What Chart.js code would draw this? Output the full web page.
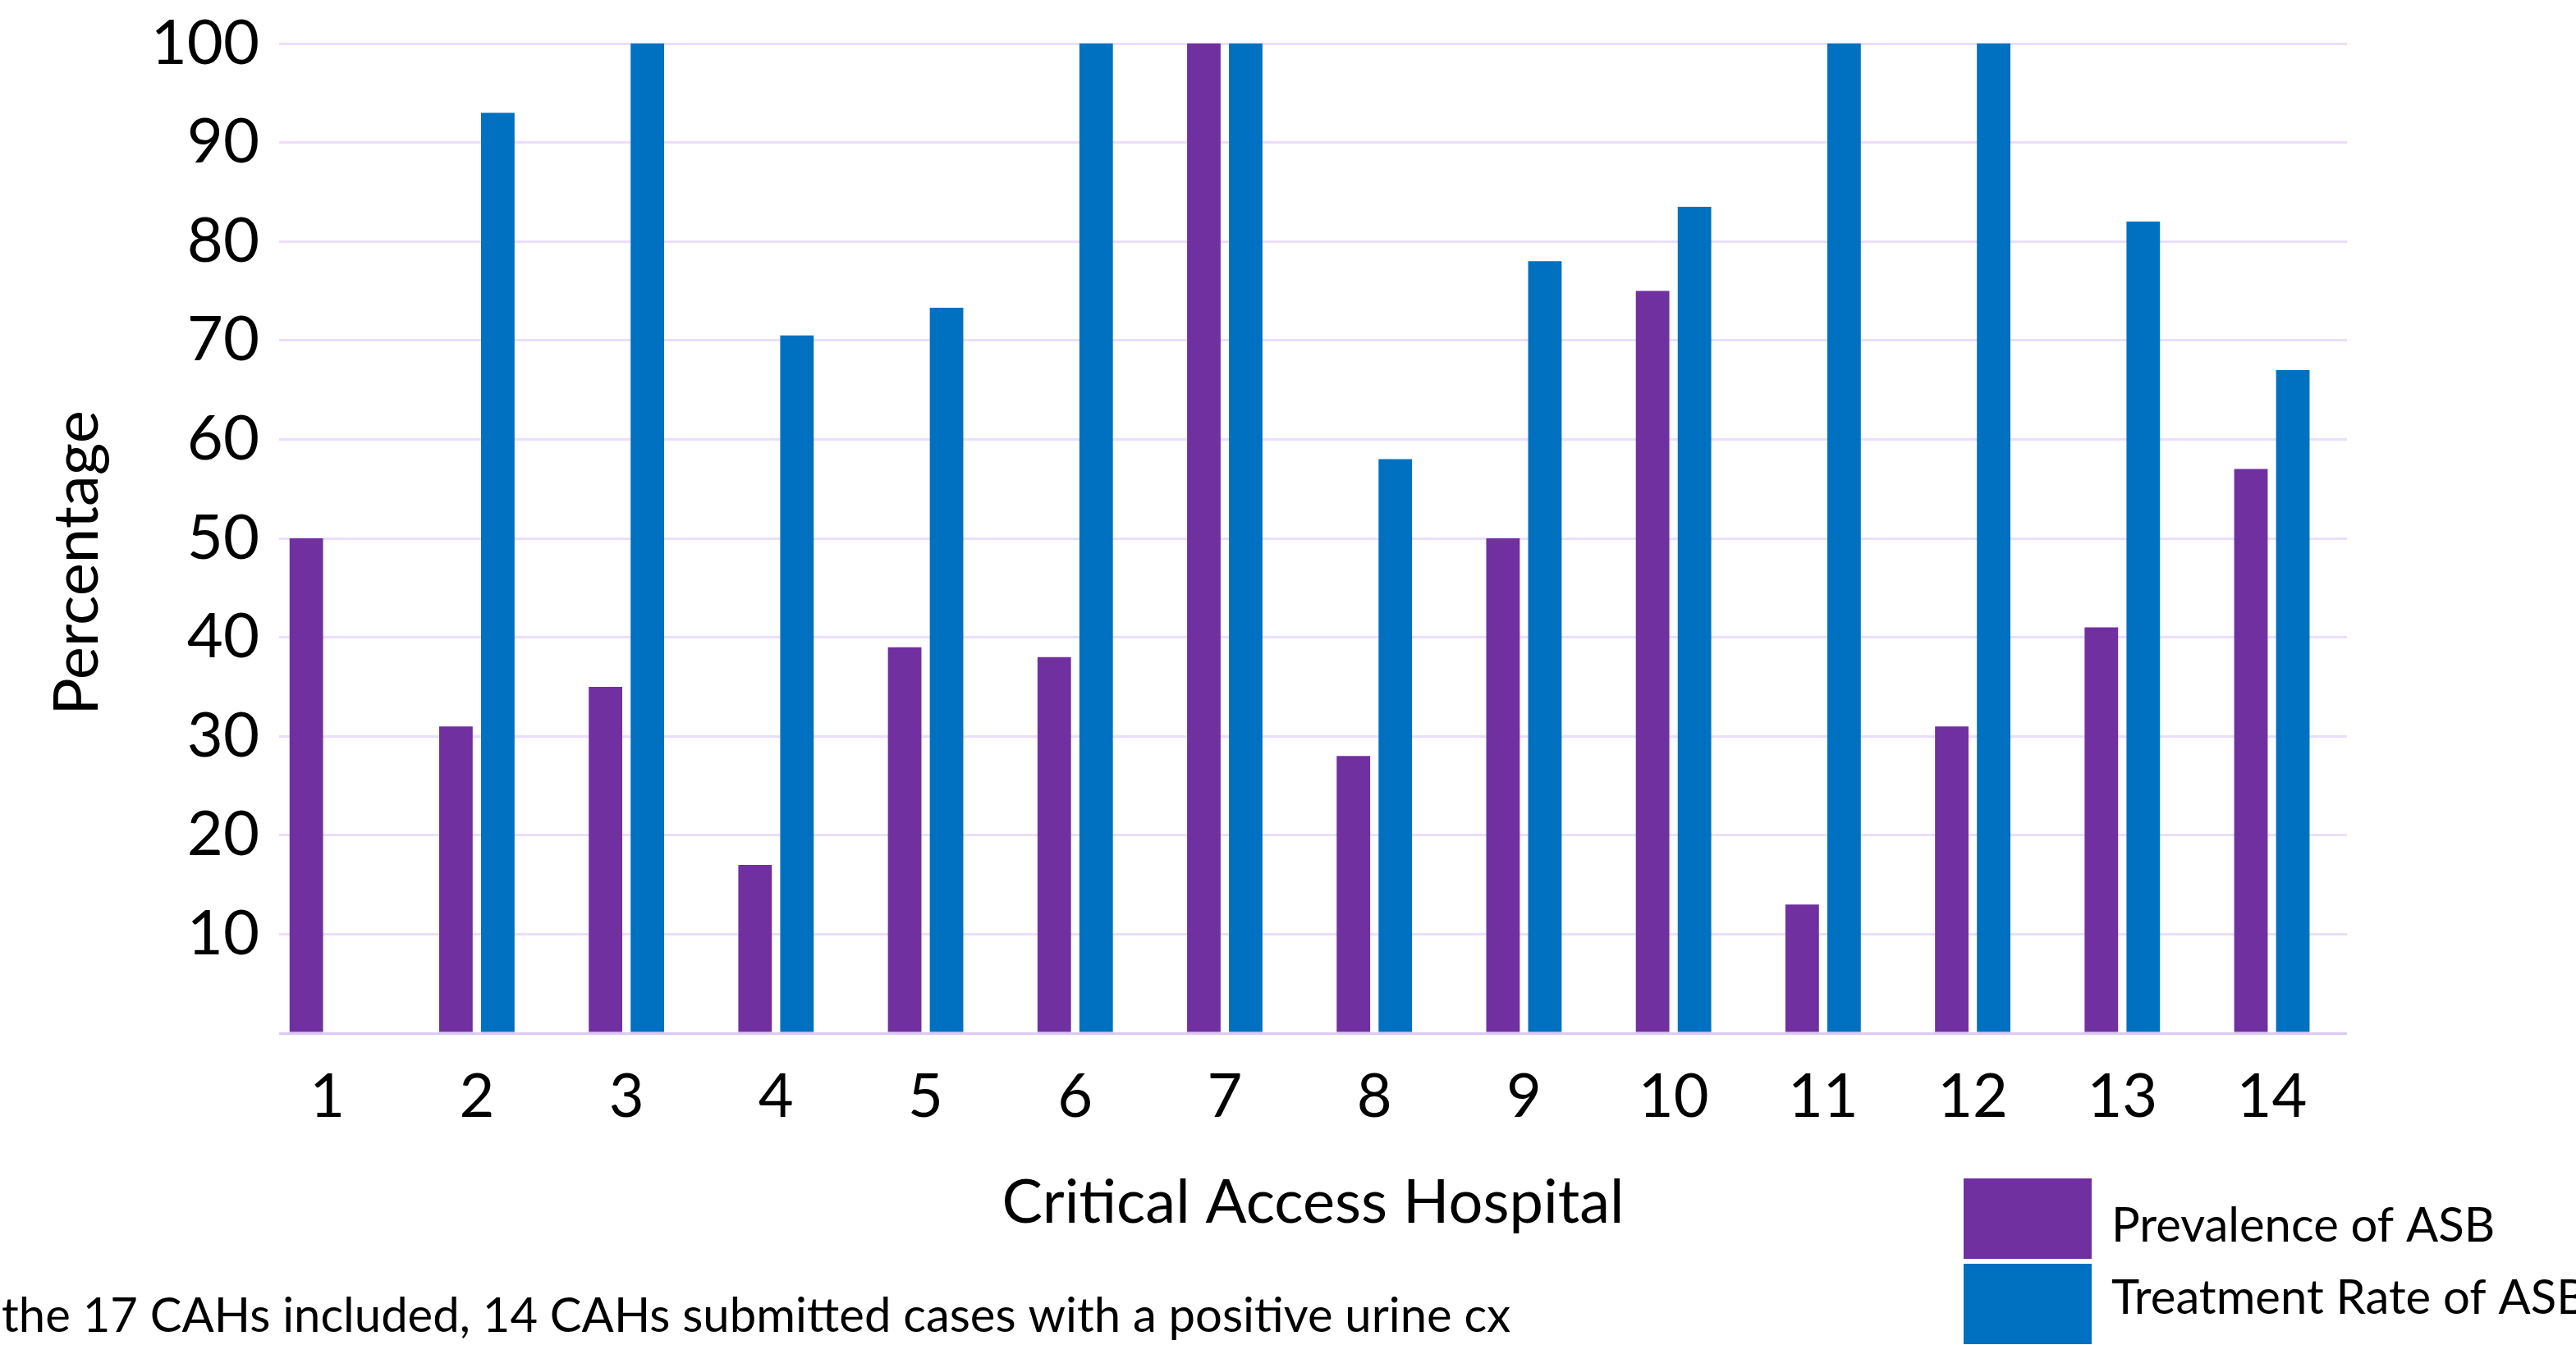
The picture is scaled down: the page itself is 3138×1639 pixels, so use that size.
<!DOCTYPE html>
<html>
<head>
<meta charset="utf-8">
<script src="https://cdn.jsdelivr.net/npm/chart.js@4/dist/chart.umd.min.js"></script>
<style>
  html, body { margin: 0; padding: 0; background: #ffffff; }
  #wrap { width: 3138px; height: 1639px; position: relative; }
</style>
</head>
<body>
<div id="wrap"><canvas id="asb" width="3138" height="1639"></canvas></div>
<script>
// Hospitals (x categories)
const hospitals = ['1', '2', '3', '4', '5', '6', '7', '8', '9', '10', '11', '12', '13', '14'];
// Prevalence of asymptomatic bacteriuria, %
const prevalence = [50, 31, 35, 17, 39, 38, 100, 28, 50, 75, 13, 31, 41, 57];
// Treatment rate of asymptomatic bacteriuria, % (hospital 1 has no value)
const treatment = [null, 93, 100, 70.5, 73.3, 100, 100, 58, 78, 83.5, 100, 100, 82, 67];
// Series names and colours
const seriesNames = ['Prevalence of ASB', 'Treatment Rate of ASB'];
const seriesColors = ['#7030A0', '#0070C0'];
// Axis titles and note
const xTitle = 'Critical Access Hospital';
const yTitle = 'Percentage';
const footnote = 'the 17 CAHs included, 14 CAHs submitted cases with a positive urine cx';

const FONT = 'Lato, "Open Sans", sans-serif';
Chart.defaults.font.family = FONT;
Chart.defaults.color = '#000000';

const toPoints = vals => vals.map((v, i) => ({ x: i + 1, y: v }));

// Y title, legend boxes stacked at the bottom right, and the note at the bottom left
const sideText = {
  id: 'sideText',
  afterDraw(chart) {
    const ctx = chart.ctx;
    ctx.save();
    ctx.fillStyle = '#000000';
    ctx.font = '76px ' + FONT;
    ctx.textAlign = 'center';
    ctx.textBaseline = 'middle';
    ctx.translate(94, 686);
    ctx.rotate(-Math.PI / 2);
    ctx.fillText(yTitle, 0, 0);
    ctx.restore();

    ctx.save();
    const boxX = 2392, boxW = 156, boxH = 98;
    const boxTops = [1436, 1540];
    const textMid = [1494, 1582];
    chart.data.datasets.forEach((ds, i) => {
      ctx.fillStyle = ds.backgroundColor;
      ctx.fillRect(boxX, boxTops[i], boxW, boxH);
      ctx.fillStyle = '#000000';
      ctx.font = '58px ' + FONT;
      ctx.textAlign = 'left';
      ctx.textBaseline = 'middle';
      ctx.fillText(ds.label, 2572, textMid[i]);
    });
    ctx.font = '58px ' + FONT;
    ctx.textAlign = 'left';
    ctx.textBaseline = 'middle';
    ctx.fillStyle = '#000000';
    ctx.fillText(footnote, 2, 1604);
    ctx.restore();
  }
};

new Chart(document.getElementById('asb'), {
  type: 'bar',
  data: {
    datasets: [
      { label: seriesNames[0], data: toPoints(prevalence), backgroundColor: seriesColors[0] },
      { label: seriesNames[1], data: toPoints(treatment), backgroundColor: seriesColors[1] }
    ]
  },
  options: {
    responsive: false,
    animation: false,
    devicePixelRatio: 1,
    categoryPercentage: 0.56,
    barPercentage: 0.80,
    layout: { padding: { top: 53, right: 279, bottom: 0, left: 0 } },
    plugins: {
      legend: { display: false },
      tooltip: { enabled: false }
    },
    scales: {
      x: {
        type: 'linear',
        offset: false,
        min: 0.678,
        max: 14.502,
        afterBuildTicks(scale) {
          scale.ticks = hospitals.map((_, i) => ({ value: i + 1 }));
        },
        afterFit(scale) { scale.height = 380; },
        ticks: {
          callback: v => hospitals[v - 1],
          font: { size: 74 },
          padding: 34,
          maxRotation: 0,
          autoSkip: false
        },
        grid: { display: false, drawTicks: false },
        border: { display: false },
        title: {
          display: true,
          text: xTitle,
          font: { size: 74 },
          padding: { top: 0, bottom: 128 }
        }
      },
      y: {
        min: 0,
        max: 100,
        afterFit(scale) { scale.width = 340; },
        ticks: {
          stepSize: 10,
          callback: v => (v === 0 ? '' : v),
          font: { size: 76, lineHeight: 0.7 },
          padding: 24
        },
        grid: {
          color: ctx => (ctx.tick && ctx.tick.value === 0 ? '#DCC8F8' : '#EBDEFC'),
          lineWidth: 3,
          drawTicks: false
        },
        border: { display: false },
        title: { display: false }
      }
    }
  },
  plugins: [sideText]
});
</script>
</body>
</html>
